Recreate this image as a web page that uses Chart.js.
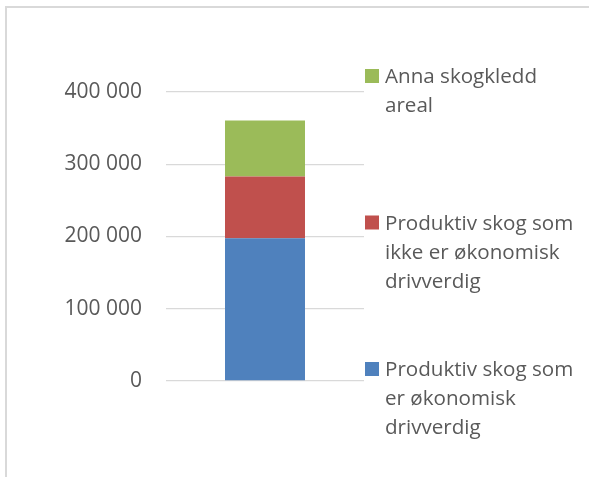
<!DOCTYPE html>
<html>
<head>
<meta charset="utf-8">
<script src="https://cdn.jsdelivr.net/npm/chart.js@4/dist/chart.umd.min.js"></script>
<style>
  html, body { margin: 0; padding: 0; background: #fff; }
  #wrap { position: relative; width: 589px; height: 477px; overflow: hidden; }
  #frame { position: absolute; left: 5px; top: 6px; width: 600px; height: 500px;
           border-left: 2px solid #d9d9d9; border-top: 2px solid #d9d9d9; }
  canvas { position: absolute; left: 0; top: 0; }
</style>
</head>
<body>
<div id="wrap">
  <div id="frame"></div>
  <canvas id="chart" width="589" height="477"></canvas>
</div>
<script>
// data
const categories = [""];
const seriesNames = [
    ["Produktiv skog som", "er økonomisk", "drivverdig"],
    ["Produktiv skog som", "ikke er økonomisk", "drivverdig"],
    ["Anna skogkledd", "areal"]
];
const seriesValues = [
    [197600],
    [85400],
    [77500]
];
const seriesColors = ["#4F81BD", "#C0504D", "#9BBB59"];
const yTicks = [0, 100000, 200000, 300000, 400000];

const textColor = "#595959";
const fontFamily = "'Open Sans', sans-serif";

function spaced(v) {
    return String(v).replace(/\B(?=(\d{3})+(?!\d))/g, " ");
}

// Excel-like legend on the right, top series first, wrapped lines
const sideLegend = {
    id: "sideLegend",
    afterDraw(chart) {
        const ctx = chart.ctx;
        ctx.save();
        ctx.font = "20.6px " + fontFamily;
        ctx.textBaseline = "alphabetic";
        const order = chart.data.datasets.map((_, i) => i).reverse();
        order.forEach((dsIndex, slot) => {
            const ds = chart.data.datasets[dsIndex];
            const baseY = 83 + slot * 146.5;
            ctx.fillStyle = ds.backgroundColor;
            ctx.fillRect(365, baseY - 14, 14, 14);
            ctx.fillStyle = textColor;
            seriesNames[dsIndex].forEach((line, k) => {
                ctx.fillText(line, 385, baseY + k * 29);
            });
        });
        ctx.restore();
    }
};

new Chart(document.getElementById("chart"), {
    type: "bar",
    data: {
        labels: categories,
        datasets: seriesValues.map((vals, i) => ({
            label: seriesNames[i].join(" "),
            data: vals,
            backgroundColor: seriesColors[i],
            borderWidth: 0,
            barPercentage: 0.404,
            categoryPercentage: 1
        }))
    },
    options: {
        responsive: false,
        animation: false,
        layout: { padding: { top: 92, right: 225, bottom: 96, left: 0 } },
        plugins: {
            legend: { display: false },
            tooltip: { enabled: false }
        },
        scales: {
            x: { stacked: true, display: false },
            y: {
                stacked: true,
                min: 0,
                max: 400000,
                afterFit(scale) { scale.width = 166; },
                afterBuildTicks(scale) { scale.ticks = yTicks.map(v => ({ value: v })); },
                border: { display: false },
                grid: { color: "#d9d9d9", lineWidth: 1.3, drawTicks: false },
                ticks: {
                    padding: 24,
                    color: textColor,
                    font: { family: fontFamily, size: 21 },
                    callback: v => spaced(v)
                }
            }
        }
    },
    plugins: [sideLegend]
});
</script>
</body>
</html>
